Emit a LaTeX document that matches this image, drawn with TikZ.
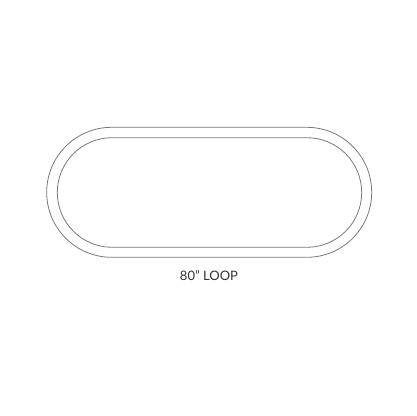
\documentclass[tikz,border=0pt]{standalone}
\usepackage{fontspec}
\setmainfont{Lato}
\definecolor{trackgray}{RGB}{120,120,120}
\begin{document}
\begin{tikzpicture}[x=1pt, y=-1pt, line width = 0.8pt]

  \useasboundingbox (0,0) rectangle (416,416);

  % outer and inner edge of the loop
  \draw[trackgray, rounded corners=65pt] (46.7,127.3) rectangle (371.7,257.3);
  \draw[trackgray, rounded corners=54.8pt] (57.3,137.7) rectangle (361.7,247.3);

  \node[text=black!80, font=\fontsize{13}{15}\selectfont] (loop) at (209,276) {80" LOOP};

\end{tikzpicture}
\end{document}
